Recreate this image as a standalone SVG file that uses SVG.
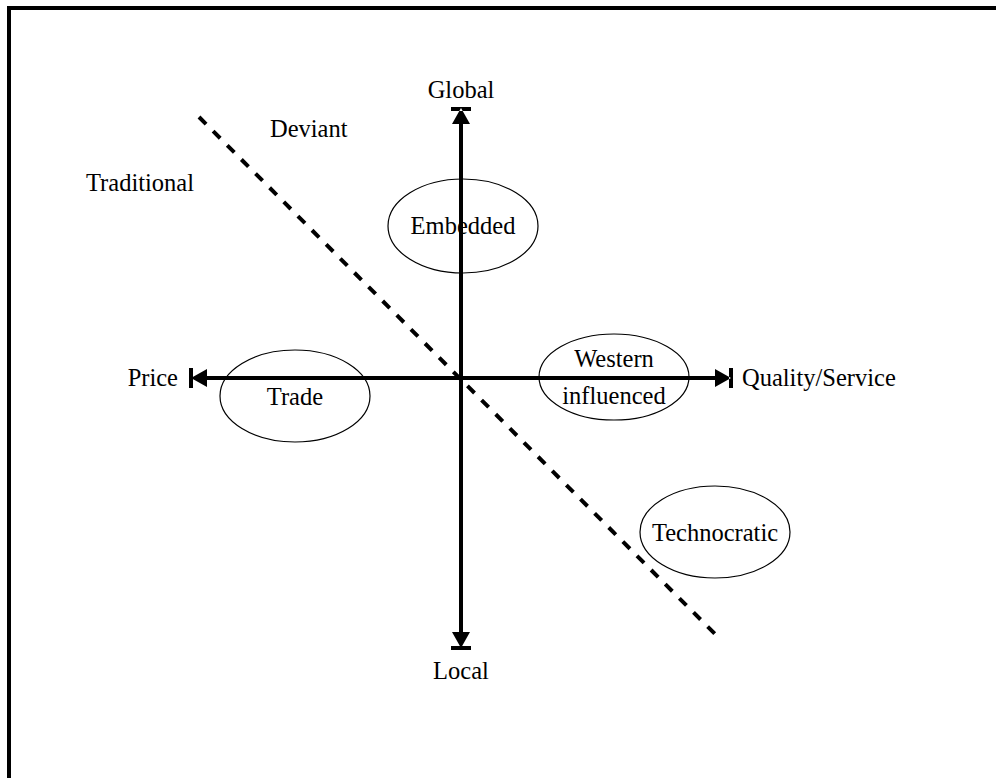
<svg xmlns="http://www.w3.org/2000/svg" width="996" height="778" viewBox="0 0 996 778">
<style>
text{font-family:"Liberation Serif","Times New Roman",serif;font-size:24.5px;fill:#000}
.e{fill:none;stroke:#000;stroke-width:1.2}
.ax{stroke:#000;stroke-width:4;fill:none}
.ah{fill:#000;stroke:none}
</style>
<rect width="996" height="778" fill="#fff"/>
<path d="M9 778 V8 H996" fill="none" stroke="#000" stroke-width="4"/>
<g id="connectors">
<line x1="199" y1="117" x2="719" y2="638" stroke="#000" stroke-width="4" stroke-dasharray="10 10"/>
<line class="ax" x1="461" y1="122" x2="461" y2="637"/>
<line class="ax" x1="203" y1="378" x2="718" y2="378"/>
<path class="ah" d="M452 124 L470 124 L461 108 Z M451 107 H471 V111 H451 Z"/>
<path class="ah" d="M452 632 L470 632 L461 648 Z M451 646 H471 V650 H451 Z"/>
<path class="ah" d="M207 369 L207 387 L191 378 Z M189 368 H193 V388 H189 Z"/>
<path class="ah" d="M715 369 L715 387 L731 378 Z M729 368 H733 V388 H729 Z"/>
</g>
<g id="global"><text x="461" y="98" text-anchor="middle">Global</text></g>
<g id="local"><text x="461" y="679" text-anchor="middle">Local</text></g>
<g id="price"><text x="178" y="386" text-anchor="end">Price</text></g>
<g id="quality"><text x="742" y="386">Quality/Service</text></g>
<g id="deviant"><text x="270" y="137">Deviant</text></g>
<g id="traditional"><text x="86" y="191">Traditional</text></g>
<g id="embedded"><ellipse class="e" cx="463" cy="226" rx="75" ry="47"/><text x="463" y="234" text-anchor="middle">Embedded</text></g>
<g id="trade"><ellipse class="e" cx="295" cy="396" rx="75" ry="46"/><text x="295" y="405" text-anchor="middle">Trade</text></g>
<g id="western"><ellipse class="e" cx="614" cy="377" rx="75" ry="43"/><text x="614" y="367" text-anchor="middle">Western</text><text x="614" y="404" text-anchor="middle">influenced</text></g>
<g id="technocratic"><ellipse class="e" cx="715" cy="532" rx="75" ry="46"/><text x="715" y="541" text-anchor="middle">Technocratic</text></g>
</svg>
